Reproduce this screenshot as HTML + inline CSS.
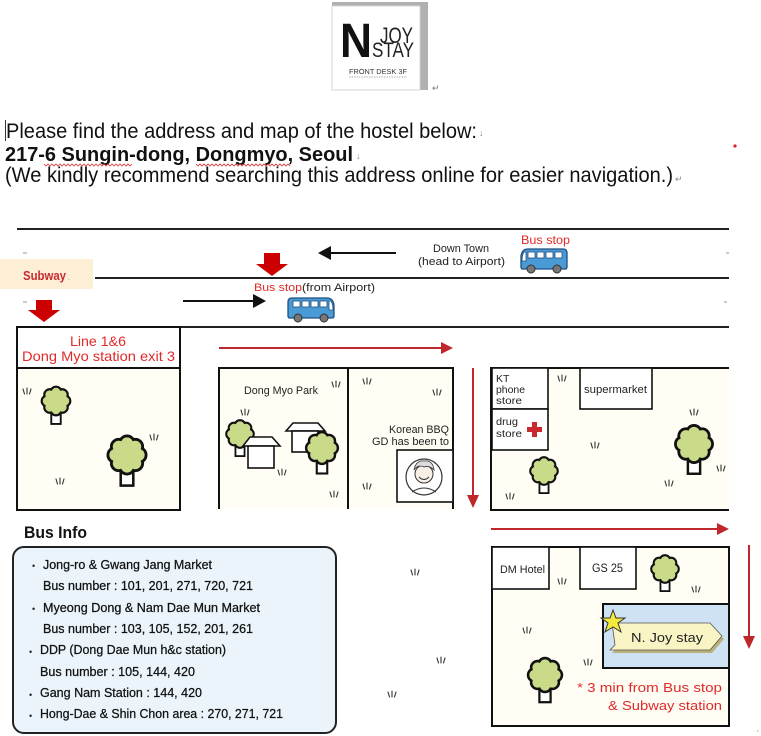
<!DOCTYPE html>
<html><head><meta charset="utf-8"><style>
html,body{margin:0;padding:0;background:#fff;width:761px;height:736px;overflow:hidden}
svg{display:block}
text{font-family:"Liberation Sans",sans-serif}
</style></head><body>
<svg width="761" height="736" viewBox="0 0 761 736" xmlns="http://www.w3.org/2000/svg">
<defs>
<g id="tree">
 <rect x="-3.5" y="7" width="7" height="10" fill="#fff" stroke="#111" stroke-width="1.4"/>
 <g fill="#c9da88" stroke="#111" stroke-width="1.8">
  <circle cx="6.5" cy="0" r="4"/><circle cx="4.6" cy="4.6" r="4"/><circle cx="0" cy="6.5" r="4"/><circle cx="-4.6" cy="4.6" r="4"/>
  <circle cx="-6.5" cy="0" r="4"/><circle cx="-4.6" cy="-4.6" r="4"/><circle cx="0" cy="-6.5" r="4"/><circle cx="4.6" cy="-4.6" r="4"/>
 </g>
 <g fill="#c9da88">
  <circle cx="0" cy="0" r="7.5"/>
  <circle cx="6.5" cy="0" r="3.3"/><circle cx="4.6" cy="4.6" r="3.3"/><circle cx="0" cy="6.5" r="3.3"/><circle cx="-4.6" cy="4.6" r="3.3"/>
  <circle cx="-6.5" cy="0" r="3.3"/><circle cx="-4.6" cy="-4.6" r="3.3"/><circle cx="0" cy="-6.5" r="3.3"/><circle cx="4.6" cy="-4.6" r="3.3"/>
 </g>
</g>
<g id="grass" stroke="#333" stroke-width="1.1" stroke-linecap="round">
 <line x1="-4" y1="-3" x2="-2.5" y2="2"/><line x1="0" y1="-4" x2="0" y2="2"/><line x1="4" y1="-3" x2="2.5" y2="2"/>
</g>
<g id="bus">
 <path d="M1,4 Q1,0 5,0 H40 Q46,0 47,7 V18 Q47,20 45,20 H3 Q1,20 1,18 Z" fill="#4a9ad6" stroke="#1f4f80" stroke-width="1.3"/>
 <rect x="6" y="3" width="7" height="6" fill="#fff" stroke="#1f4f80" stroke-width="0.8"/>
 <rect x="15" y="3" width="7" height="6" fill="#fff" stroke="#1f4f80" stroke-width="0.8"/>
 <rect x="24" y="3" width="7" height="6" fill="#fff" stroke="#1f4f80" stroke-width="0.8"/>
 <rect x="33" y="3" width="7" height="6" fill="#fff" stroke="#1f4f80" stroke-width="0.8"/>
 <path d="M42,3 L44,3 Q46,6 46,12 L42,12 Z" fill="#fff" stroke="#1f4f80" stroke-width="0.8"/>
 <circle cx="11" cy="20" r="4" fill="#777" stroke="#333" stroke-width="1"/>
 <circle cx="37" cy="20" r="4" fill="#777" stroke="#333" stroke-width="1"/>
</g>
</defs>

<!-- Logo -->
<rect x="332" y="2" width="96" height="88" fill="#b0b0b0"/>
<rect x="332" y="6" width="88" height="84" fill="#fff" stroke="#d5d5d5" stroke-width="1"/>
<text x="340" y="57" font-size="48" font-weight="bold" fill="#111" textLength="32" lengthAdjust="spacingAndGlyphs">N</text>
<text x="380" y="43" font-size="22" fill="#222" textLength="33" lengthAdjust="spacingAndGlyphs">JOY</text>
<text x="372" y="57" font-size="21" fill="#222" textLength="42" lengthAdjust="spacingAndGlyphs">STAY</text>
<text x="349" y="74" font-size="7" fill="#333" textLength="58" lengthAdjust="spacingAndGlyphs">FRONT DESK 3F</text>
<line x1="349" y1="77" x2="407" y2="77" stroke="#999" stroke-width="0.8" stroke-dasharray="1.5,1"/>
<text x="432" y="91" font-size="9" fill="#777">↵</text>

<!-- Intro text -->
<line x1="5.5" y1="120" x2="5.5" y2="141" stroke="#333" stroke-width="1"/>
<text x="6" y="138" font-size="21" fill="#111" textLength="471" lengthAdjust="spacingAndGlyphs">Please find the address and map of the hostel below:</text>
<text x="479" y="136" font-size="9" fill="#888">↓</text>
<text x="5" y="161" font-size="20" font-weight="bold" fill="#111" textLength="348" lengthAdjust="spacingAndGlyphs">217-6 Sungin-dong, Dongmyo, Seoul</text>
<text x="356" y="159" font-size="9" fill="#888">↓</text>
<polyline points="44,164 46,166 48,164 50,166 52,164 54,166 56,164 58,166 60,164 62,166 64,164 66,166 68,164 70,166 72,164 74,166 76,164 78,166 80,164 82,166 84,164 86,166 88,164 90,166 92,164 94,166 96,164 98,166 100,164 102,166 104,164 106,166 108,164 110,166 112,164 114,166 116,164 118,166 120,164 122,166 124,164 126,166 128,164 130,166 132,164" fill="none" stroke="#d33" stroke-width="0.8"/>
<polyline points="196,164 198,166 200,164 202,166 204,164 206,166 208,164 210,166 212,164 214,166 216,164 218,166 220,164 222,166 224,164 226,166 228,164 230,166 232,164 234,166 236,164 238,166 240,164 242,166 244,164 246,166 248,164 250,166 252,164 254,166 256,164 258,166 260,164 262,166 264,164 266,166 268,164 270,166 272,164 274,166 276,164 278,166 280,164 282,166 284,164 286,166 288,164 290,166" fill="none" stroke="#d33" stroke-width="0.8"/>
<text x="5" y="182" font-size="21" fill="#111" textLength="668" lengthAdjust="spacingAndGlyphs">(We kindly recommend searching this address online for easier navigation.)</text>
<text x="675" y="182" font-size="9" fill="#888">↵</text>
<circle cx="735" cy="146" r="1.6" fill="#d22"/>

<!-- Roads -->
<line x1="17" y1="229" x2="729" y2="229" stroke="#222" stroke-width="2"/>
<line x1="95" y1="278" x2="729" y2="278" stroke="#222" stroke-width="2"/>
<line x1="17" y1="327" x2="729" y2="327" stroke="#222" stroke-width="2"/>
<line x1="23" y1="253" x2="27" y2="253" stroke="#999" stroke-width="1"/>
<line x1="23" y1="302" x2="27" y2="302" stroke="#999" stroke-width="1"/>
<line x1="726" y1="253" x2="729" y2="253" stroke="#999" stroke-width="1"/>
<line x1="724" y1="302" x2="727" y2="302" stroke="#999" stroke-width="1"/>

<!-- Subway label -->
<rect x="0" y="259" width="93" height="30" fill="#fdefd6"/>
<text x="23" y="280" font-size="13" font-weight="bold" fill="#c8282e" textLength="43" lengthAdjust="spacingAndGlyphs">Subway</text>
<text x="68" y="280" font-size="7" fill="#888">.</text>

<!-- Red block arrows -->
<path d="M36,300 H52 V310 H60 L44,322 L28,310 H36 Z" fill="#c00"/>
<path d="M264,253 H280 V264 H288 L272,276 L256,264 H264 Z" fill="#c00"/>

<!-- Black arrows -->
<line x1="396" y1="253" x2="328" y2="253" stroke="#111" stroke-width="2"/>
<path d="M318,253 L331,246 L331,260 Z" fill="#111"/>
<line x1="183" y1="301" x2="256" y2="301" stroke="#111" stroke-width="2"/>
<path d="M266,301 L253,294 L253,308 Z" fill="#111"/>

<!-- Bus stop labels -->
<text x="254" y="291" font-size="11" fill="#e02a2a" textLength="48" lengthAdjust="spacingAndGlyphs">Bus stop</text>
<text x="302" y="291" font-size="11" fill="#222" textLength="73" lengthAdjust="spacingAndGlyphs">(from Airport)</text>
<use href="#bus" transform="translate(287,298)"/>
<text x="433" y="252" font-size="11" fill="#222" textLength="56" lengthAdjust="spacingAndGlyphs">Down Town</text>
<text x="418" y="265" font-size="11" fill="#222" textLength="87" lengthAdjust="spacingAndGlyphs">(head to Airport)</text>
<text x="521" y="244" font-size="12" fill="#e02a2a" textLength="49" lengthAdjust="spacingAndGlyphs">Bus stop</text>
<use href="#bus" transform="translate(568,249) scale(-1,1)"/>

<!-- Station box & left block -->
<rect x="17" y="368" width="163" height="142" fill="#fffdf4" stroke="#111" stroke-width="2"/>
<rect x="17" y="327" width="163" height="41" fill="#fff" stroke="#111" stroke-width="2"/>
<text x="98" y="346" font-size="14" fill="#e02a2a" text-anchor="middle" textLength="56" lengthAdjust="spacingAndGlyphs">Line 1&amp;6</text>
<text x="22" y="361" font-size="14" fill="#e02a2a" textLength="153" lengthAdjust="spacingAndGlyphs">Dong Myo station exit 3</text>
<use href="#tree" transform="translate(56,401) scale(1.35)"/>
<use href="#tree" transform="translate(127,455) scale(1.8)"/>
<use href="#grass" transform="translate(27,392)"/>
<use href="#grass" transform="translate(154,438)"/>
<use href="#grass" transform="translate(60,482)"/>

<!-- Red arrows thin -->
<line x1="219" y1="348" x2="444" y2="348" stroke="#c0272d" stroke-width="2"/>
<path d="M453,348 L441,342 L441,354 Z" fill="#c0272d"/>
<line x1="473" y1="368" x2="473" y2="497" stroke="#c0272d" stroke-width="2"/>
<path d="M473,508 L467,495 L479,495 Z" fill="#c0272d"/>
<line x1="491" y1="529" x2="719" y2="529" stroke="#c0272d" stroke-width="2"/>
<path d="M729,529 L717,523 L717,535 Z" fill="#c0272d"/>
<line x1="749" y1="545" x2="749" y2="637" stroke="#c0272d" stroke-width="2"/>
<path d="M749,649 L743,636 L755,636 Z" fill="#c0272d"/>

<!-- Middle block -->
<rect x="219" y="368" width="234" height="141" fill="#fffdf4"/>
<path d="M219,509 V368 H453 V509 M348,368 V509" fill="none" stroke="#111" stroke-width="2"/>
<text x="244" y="394" font-size="11" fill="#222" textLength="74" lengthAdjust="spacingAndGlyphs">Dong Myo Park</text>
<use href="#tree" transform="translate(240,434) scale(1.3)"/>
<path d="M243,446 L250,437 L272,437 L280,446 Z" fill="#fff" stroke="#111" stroke-width="1.6"/>
<rect x="248" y="446" width="26" height="22" fill="#fff" stroke="#111" stroke-width="1.6"/>
<path d="M286,431 L293,423 L318,423 L325,431 Z" fill="#fff" stroke="#111" stroke-width="1.6"/>
<rect x="292" y="431" width="26" height="21" fill="#fff" stroke="#111" stroke-width="1.6"/>
<use href="#tree" transform="translate(322,448) scale(1.5)"/>
<use href="#grass" transform="translate(245,413)"/>
<use href="#grass" transform="translate(336,385)"/>
<use href="#grass" transform="translate(282,473)"/>
<use href="#grass" transform="translate(334,495)"/>
<use href="#grass" transform="translate(367,382)"/>
<use href="#grass" transform="translate(437,393)"/>
<use href="#grass" transform="translate(367,487)"/>
<text x="389" y="433" font-size="11" fill="#222" textLength="60" lengthAdjust="spacingAndGlyphs">Korean BBQ</text>
<text x="372" y="445" font-size="11" fill="#222" textLength="77" lengthAdjust="spacingAndGlyphs">GD has been to</text>
<rect x="397" y="450" width="56" height="52" fill="#fff" stroke="#111" stroke-width="1.6"/>
<circle cx="424" cy="477" r="18" fill="#fff" stroke="#333" stroke-width="1.2"/>
<circle cx="424" cy="474" r="9" fill="#f8efe6" stroke="#333" stroke-width="1"/>
<path d="M414,470 Q416,460 424,461 Q433,460 434,470 Q429,465 424,467 Q418,464 414,470 Z" fill="#ddd" stroke="#333" stroke-width="0.8"/>
<path d="M419,477 Q424,482 429,477" fill="none" stroke="#333" stroke-width="1"/>
<path d="M412,492 Q424,484 436,492" fill="none" stroke="#333" stroke-width="1"/>

<!-- Right block -->
<rect x="491" y="368" width="238" height="142" fill="#fffdf4"/>
<path d="M729,368 H491 V510 H729" fill="none" stroke="#111" stroke-width="2"/>
<rect x="492" y="368" width="56" height="41" fill="#fff" stroke="#111" stroke-width="1.6"/>
<rect x="492" y="409" width="56" height="41" fill="#fff" stroke="#111" stroke-width="1.6"/>
<rect x="580" y="368" width="72" height="41" fill="#fff" stroke="#111" stroke-width="1.6"/>
<text x="496" y="382" font-size="10.5" fill="#222">KT</text>
<text x="496" y="393" font-size="10.5" fill="#222" textLength="29" lengthAdjust="spacingAndGlyphs">phone</text>
<text x="496" y="404" font-size="10.5" fill="#222" textLength="26" lengthAdjust="spacingAndGlyphs">store</text>
<text x="496" y="425" font-size="10.5" fill="#222" textLength="22" lengthAdjust="spacingAndGlyphs">drug</text>
<text x="496" y="437" font-size="10.5" fill="#222" textLength="26" lengthAdjust="spacingAndGlyphs">store</text>
<path d="M532,422 H537 V427 H542 V432 H537 V437 H532 V432 H527 V427 H532 Z" fill="#c8282e"/>
<text x="584" y="393" font-size="11" fill="#222" textLength="63" lengthAdjust="spacingAndGlyphs">supermarket</text>
<use href="#tree" transform="translate(544,471) scale(1.3)"/>
<use href="#tree" transform="translate(694,444) scale(1.75)"/>
<use href="#grass" transform="translate(562,379)"/>
<use href="#grass" transform="translate(694,413)"/>
<use href="#grass" transform="translate(595,446)"/>
<use href="#grass" transform="translate(721,469)"/>
<use href="#grass" transform="translate(669,484)"/>
<use href="#grass" transform="translate(510,497)"/>

<!-- Bottom right block -->
<rect x="492" y="547" width="237" height="179" fill="#fffdf4" stroke="#111" stroke-width="2"/>
<rect x="492" y="547" width="57" height="42" fill="#fff" stroke="#111" stroke-width="1.6"/>
<rect x="580" y="547" width="56" height="42" fill="#fff" stroke="#111" stroke-width="1.6"/>
<text x="500" y="573" font-size="11" fill="#222" textLength="45" lengthAdjust="spacingAndGlyphs">DM Hotel</text>
<text x="592" y="572" font-size="12" fill="#222" textLength="31" lengthAdjust="spacingAndGlyphs">GS 25</text>
<use href="#tree" transform="translate(665,569) scale(1.3)"/>
<use href="#tree" transform="translate(545,675) scale(1.6)"/>
<use href="#grass" transform="translate(562,582)"/>
<use href="#grass" transform="translate(696,590)"/>
<use href="#grass" transform="translate(527,631)"/>
<use href="#grass" transform="translate(588,663)"/>
<rect x="603" y="604" width="126" height="64" fill="#cfe2f3" stroke="#111" stroke-width="2"/>
<path d="M614,627 H712 L724,639 L712,653 H612 L617,648 Z" fill="#b9b17a"/>
<path d="M612,623 H710 L722,636 L710,650 H610 L615,645 Z" fill="#f8f4c4" stroke="#555" stroke-width="0.8"/>
<text x="631" y="642" font-size="13" fill="#222" textLength="72" lengthAdjust="spacingAndGlyphs">N. Joy stay</text>
<path d="M613,610 L616,618 L625,618 L618,623 L621,632 L613,627 L605,632 L608,623 L601,618 L610,618 Z" fill="#f5e83c" stroke="#333" stroke-width="1"/>
<text x="577" y="692" font-size="13" fill="#e02a2a" textLength="145" lengthAdjust="spacingAndGlyphs">* 3 min from Bus stop</text>
<text x="608" y="710" font-size="13" fill="#e02a2a" textLength="114" lengthAdjust="spacingAndGlyphs">&amp; Subway station</text>
<text x="757" y="736" font-size="8" fill="#888">'</text>

<!-- Middle bottom grass -->
<use href="#grass" transform="translate(415,573)"/>
<use href="#grass" transform="translate(441,661)"/>
<use href="#grass" transform="translate(392,695)"/>

<!-- Bus Info -->
<text x="24" y="538" font-size="17" font-weight="bold" fill="#111" textLength="63" lengthAdjust="spacingAndGlyphs">Bus Info</text>
<rect x="13" y="547" width="323" height="186" rx="11" fill="#eaf4fa" stroke="#222" stroke-width="2"/>
<g font-size="9" fill="#222">
<text x="32" y="569">•</text>
<text x="32" y="612">•</text>
<text x="29" y="655">•</text>
<text x="29" y="698">•</text>
<text x="29" y="719">•</text>
</g>
<g font-size="12.5" fill="#111" stroke="#111" stroke-width="0.25">
<text x="43" y="569" textLength="169" lengthAdjust="spacingAndGlyphs">Jong-ro &amp; Gwang Jang Market</text>
<text x="43" y="590" textLength="210" lengthAdjust="spacingAndGlyphs">Bus number : 101, 201, 271, 720, 721</text>
<text x="43" y="612" textLength="217" lengthAdjust="spacingAndGlyphs">Myeong Dong &amp; Nam Dae Mun Market</text>
<text x="43" y="633" textLength="210" lengthAdjust="spacingAndGlyphs">Bus number : 103, 105, 152, 201, 261</text>
<text x="40" y="654" textLength="186" lengthAdjust="spacingAndGlyphs">DDP (Dong Dae Mun h&amp;c station)</text>
<text x="40" y="676" textLength="155" lengthAdjust="spacingAndGlyphs">Bus number : 105, 144, 420</text>
<text x="40" y="697" textLength="162" lengthAdjust="spacingAndGlyphs">Gang Nam Station : 144, 420</text>
<text x="40" y="718" textLength="243" lengthAdjust="spacingAndGlyphs">Hong-Dae &amp; Shin Chon area : 270, 271, 721</text>
</g>
</svg>
</body></html>
